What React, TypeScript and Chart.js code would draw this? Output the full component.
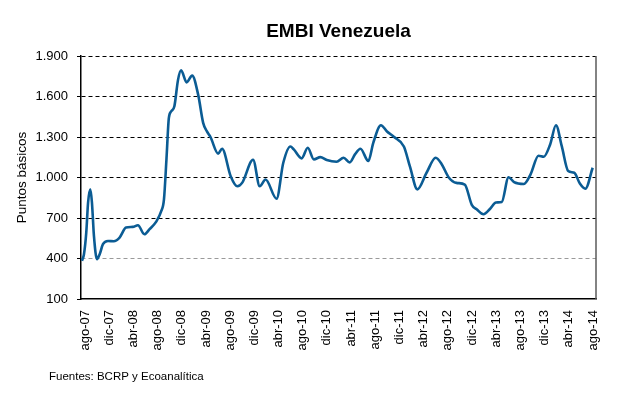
import React, { useEffect, useRef } from "react";
import { Chart, registerables } from "chart.js";

Chart.register(...registerables);

const chartTitle = "EMBI Venezuela";
const yAxisTitle = "Puntos básicos";
const sourceNote = "Fuentes: BCRP y Ecoanalítica";

const tickLabels = [
  "ago-07", "dic-07", "abr-08", "ago-08", "dic-08", "abr-09", "ago-09", "dic-09",
  "abr-10", "ago-10", "dic-10", "abr-11", "ago-11", "dic-11", "abr-12", "ago-12",
  "dic-12", "abr-13", "ago-13", "dic-13", "abr-14", "ago-14",
];

// months elapsed since ago-07 for each sample
const sampleMonths = [
  -0.5, -0.17, 0.21, 0.51, 0.88, 1.15, 1.48, 1.98, 2.43, 2.97, 3.8, 4.76, 5.72, 6.79,
  7.9, 8.76, 9.82, 10.68, 11.75, 12.62, 13.06, 13.47, 13.87, 14.28, 14.78, 15.39,
  15.89, 16.81, 17.72, 18.73, 19.54, 20.14, 20.75, 22.02, 22.67, 24.09, 25.2, 26.01,
  27.79, 28.9, 29.86, 31.68, 32.79, 33.96, 34.52, 35.83, 36.84, 37.85, 38.92, 39.98,
  41.6, 42.76, 43.78, 44.64, 45.55, 46.86, 47.67, 48.94, 49.9, 51.11, 52.73, 53.74,
  54.96, 56.48, 57.99, 59.01, 60.12, 61.43, 62.8, 63.96, 64.77, 65.89, 67.0, 67.96,
  68.92, 70.04, 70.95, 72.57, 73.68, 74.99, 75.86, 76.92, 77.88, 78.84, 79.9, 80.91,
  81.83, 82.74, 83.95,
];

// EMBI spread, basis points
const embiValues = [
  383, 432, 592, 814, 912, 814, 567, 395, 432, 506, 530, 528, 555, 629,
  634, 646, 580, 617, 671, 752, 838, 1134, 1442, 1491, 1528, 1725,
  1794, 1705, 1755, 1610, 1405, 1343, 1300, 1177, 1213, 1010, 935, 962,
  1132, 935, 985, 843, 1109, 1230, 1208, 1142, 1220, 1134, 1151, 1129,
  1117, 1146, 1112, 1171, 1213, 1122, 1257, 1387, 1343, 1300, 1230, 1080,
  912, 1035, 1146, 1097, 1002, 960, 948, 798, 765, 728, 769, 815,
  819, 1002, 966, 952, 1023, 1161, 1154, 1245, 1387, 1232, 1048, 1035,
  955, 917, 1072,
];

const yMin = 100;
const yMax = 1900;
const yStep = 300;

const FONT = "'Liberation Sans', Arial, sans-serif";

function formatThousands(v: number): string {
  if (v >= 1000) {
    const th = Math.floor(v / 1000);
    const rest = String(v % 1000).padStart(3, "0");
    return th + "." + rest;
  }
  return String(v);
}

const decorPlugin = {
  id: "decor",
  afterDraw(chart: any) {
    const { ctx, chartArea } = chart;
    ctx.save();
    // right border
    ctx.strokeStyle = "#5a5a5a";
    ctx.lineWidth = 1.5;
    ctx.beginPath();
    ctx.moveTo(chartArea.right, chartArea.top);
    ctx.lineTo(chartArea.right, chartArea.bottom);
    ctx.stroke();

    // title
    ctx.fillStyle = "#000";
    ctx.font = "bold 19px " + FONT;
    ctx.textAlign = "center";
    ctx.textBaseline = "middle";
    ctx.fillText(chartTitle, (chartArea.left + chartArea.right) / 2, 32);

    // y-axis title
    ctx.save();
    ctx.translate(22, (chartArea.top + chartArea.bottom) / 2);
    ctx.rotate(-Math.PI / 2);
    ctx.font = "13.5px " + FONT;
    ctx.textAlign = "center";
    ctx.textBaseline = "middle";
    ctx.fillText(yAxisTitle, 0, 0);
    ctx.restore();

    // source
    ctx.font = "11.5px " + FONT;
    ctx.textAlign = "left";
    ctx.textBaseline = "middle";
    ctx.fillText(sourceNote, 49, 377);
    ctx.restore();
  },
};

export default function App() {
  const ref = useRef<HTMLCanvasElement>(null);

  useEffect(() => {
    if (!ref.current) return;
    const chart = new Chart(ref.current, {
      type: "line",
      data: {
        datasets: [
          {
            label: "EMBI Venezuela",
            data: sampleMonths.map((m, i) => ({ x: m, y: embiValues[i] })),
            borderColor: "#0B5C94",
            borderWidth: 2.6,
            pointRadius: 0,
            fill: false,
            cubicInterpolationMode: "monotone",
          },
        ],
      },
      options: {
        responsive: false,
        animation: false,
        layout: { padding: { top: 56, right: 44, bottom: 0, left: 0 } },
        plugins: {
          legend: { display: false },
          tooltip: { enabled: false },
          title: { display: false },
        },
        scales: {
          x: {
            type: "linear",
            min: -0.66,
            max: 84.5,
            afterBuildTicks: (scale: any) => {
              scale.ticks = tickLabels.map((_, k) => ({ value: k * 4 }));
            },
            afterFit: (scale: any) => {
              scale.height = 104;
            },
            grid: { display: false, drawTicks: false },
            border: { display: true, color: "#000", width: 1.5 },
            ticks: {
              autoSkip: false,
              minRotation: 90,
              maxRotation: 90,
              padding: 11,
              color: "#000",
              font: { family: FONT, size: 13 },
              callback: (_v: any, i: number) => tickLabels[i],
            },
          },
          y: {
            type: "linear",
            min: yMin,
            max: yMax,
            afterFit: (scale: any) => {
              scale.width = 81;
            },
            grid: {
              color: (ctx: any) => {
                const v = ctx.tick ? ctx.tick.value : null;
                if (v === 400) return "#9a9a9a";
                if (v === 100) return "rgba(0,0,0,0)";
                return "#000";
              },
              lineWidth: 1,
              tickColor: "#000",
              tickLength: 4,
              tickBorderDash: [],
            },
            border: { display: true, color: "#000", width: 1.5, dash: [4, 3] },
            ticks: {
              stepSize: yStep,
              padding: 9,
              color: "#000",
              font: { family: FONT, size: 13 },
              callback: (v: any) => formatThousands(Number(v)),
            },
          },
        },
      },
      plugins: [decorPlugin],
    } as any);
    return () => chart.destroy();
  }, []);

  return (
    <div style={{ position: "absolute", left: 0, top: 0, width: 640, height: 403, background: "#fff" }}>
      <canvas ref={ref} width={640} height={403} style={{ width: 640, height: 403 }} />
    </div>
  );
}
